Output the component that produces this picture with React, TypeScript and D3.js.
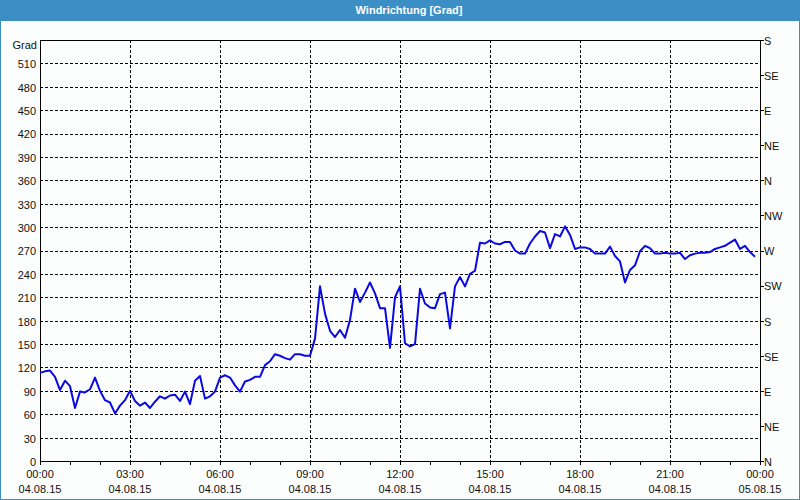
import React from "react";
import * as d3 from "d3";

const values: number[] = [
  113, 115, 116, 108, 91, 103, 96, 68, 89, 88, 92, 107, 90, 78, 75, 61, 71, 78, 90, 77,
  71, 75, 68, 76, 83, 80, 84, 85, 77, 89, 73, 103, 109, 80, 83, 89, 107, 110, 107, 97,
  89, 102, 104, 108, 108, 123, 128, 137, 135, 132, 130, 137, 137, 135, 135, 157, 224, 189, 167, 159,
  168, 158, 181, 221, 204, 216, 229, 215, 196, 196, 145, 210, 224, 151, 147, 150, 221, 202, 197, 196,
  214, 216, 170, 224, 236, 224, 240, 244, 280, 279, 283, 279, 278, 281, 281, 270, 266, 266, 279, 288,
  295, 293, 273, 291, 288, 301, 290, 272, 274, 274, 272, 266, 266, 266, 275, 263, 256, 229, 245, 251,
  269, 276, 273, 266, 266, 267, 266, 266, 267, 259, 264, 266, 267, 267, 268, 272, 274, 276, 280, 284,
  272, 276, 268, 262,
];
const stepMinutes = 10;

const leftTicks: number[] = [0, 30, 60, 90, 120, 150, 180, 210, 240, 270, 300, 330, 360, 390, 420, 450, 480, 510];
const rightTicks: number[] = [0, 45, 90, 135, 180, 225, 270, 315, 360, 405, 450, 495, 540];
const rightLabels: string[] = ["N", "NE", "E", "SE", "S", "SW", "W", "NW", "N", "NE", "E", "SE", "S"];
const timeTicks: number[] = [0, 3, 6, 9, 12, 15, 18, 21, 24];
const timeLabels: string[] = ["00:00", "03:00", "06:00", "09:00", "12:00", "15:00", "18:00", "21:00", "00:00"];
const dateLabels: string[] = ["04.08.15", "04.08.15", "04.08.15", "04.08.15", "04.08.15", "04.08.15", "04.08.15", "04.08.15", "05.08.15"];
const hourTicks: number[] = d3.range(0, 25);

const title = "Windrichtung [Grad]";
const unit = "Grad";

export default function App() {
  const W = 800, H = 500;
  const L = 40, R = 760, T = 40, B = 461;
  const x = d3.scaleLinear().domain([0, 24]).range([L, R]);
  const y = d3.scaleLinear().domain([0, 540]).range([B, T]);
  const line = d3
    .line<number>()
    .x((_, i) => x((i * stepMinutes) / 60))
    .y((d) => y(d));
  const font = "'Liberation Sans', Arial, sans-serif";
  const blue = "#3c8fc5";
  return (
    <svg
      width={W}
      height={H}
      style={{ position: "absolute", left: 0, top: 0, fontFamily: font }}
    >
      <rect x={0} y={0} width={W} height={H} fill="#fcfefd" />
      <rect x={0.5} y={0.5} width={W - 1} height={H - 1} fill="none" stroke={blue} />
      <rect x={0} y={0} width={W} height={21} fill={blue} />
      <text x={409} y={11} fill="#fff" fontWeight="bold" fontSize={11} textAnchor="middle" dominantBaseline="middle">
        {title}
      </text>

      {/* horizontal grid */}
      {leftTicks.filter((t) => t > 0).map((t) => (
        <line key={"h" + t} x1={L} x2={R} y1={Math.round(y(t)) + 0.5} y2={Math.round(y(t)) + 0.5}
          stroke="#000" strokeDasharray="3,2" />
      ))}
      {/* vertical grid */}
      {timeTicks.filter((t) => t > 0 && t < 24).map((t) => (
        <line key={"v" + t} x1={Math.round(x(t)) + 0.5} x2={Math.round(x(t)) + 0.5} y1={T} y2={B + 4}
          stroke="#000" strokeDasharray="3,2" />
      ))}
      {/* hour ticks */}
      {hourTicks.map((t) => (
        <line key={"ht" + t} x1={Math.round(x(t)) + 0.5} x2={Math.round(x(t)) + 0.5} y1={B} y2={B + 4} stroke="#000" />
      ))}
      {/* right ticks */}
      {rightTicks.map((t) => (
        <line key={"rt" + t} x1={R} x2={R + 4} y1={Math.round(y(t)) + 0.5} y2={Math.round(y(t)) + 0.5} stroke="#000" />
      ))}
      {/* frame */}
      <line x1={L} x2={R + 1} y1={T + 0.5} y2={T + 0.5} stroke="#000" />
      <line x1={L} x2={R + 1} y1={B + 0.5} y2={B + 0.5} stroke="#000" />
      <line x1={L + 0.5} x2={L + 0.5} y1={T} y2={B + 4} stroke="#000" />
      <line x1={R + 0.5} x2={R + 0.5} y1={T} y2={B + 4} stroke="#000" />

      {/* left labels */}
      {leftTicks.map((t) => (
        <text key={"ll" + t} x={36} y={y(t) + 2} fontSize={11} textAnchor="end" dominantBaseline="middle" fill="#111">
          {t}
        </text>
      ))}
      <text x={37} y={46} fontSize={11} textAnchor="end" dominantBaseline="middle" fill="#111">{unit}</text>
      {/* right labels */}
      {rightTicks.map((t, i) => (
        <text key={"rl" + t} x={764} y={y(t) + 2} fontSize={11} dominantBaseline="middle" fill="#111">
          {rightLabels[i]}
        </text>
      ))}
      {/* bottom labels */}
      {timeTicks.map((t, i) => (
        <g key={"bl" + t}>
          <text x={x(t)} y={475} fontSize={11} textAnchor="middle" dominantBaseline="middle" fill="#111">
            {timeLabels[i]}
          </text>
          <text x={x(t)} y={490} fontSize={11} textAnchor="middle" dominantBaseline="middle" fill="#111">
            {dateLabels[i]}
          </text>
        </g>
      ))}

      <path d={line(values) || ""} fill="none" stroke="#0a0ae0" strokeWidth={2} strokeLinejoin="round" />
    </svg>
  );
}
